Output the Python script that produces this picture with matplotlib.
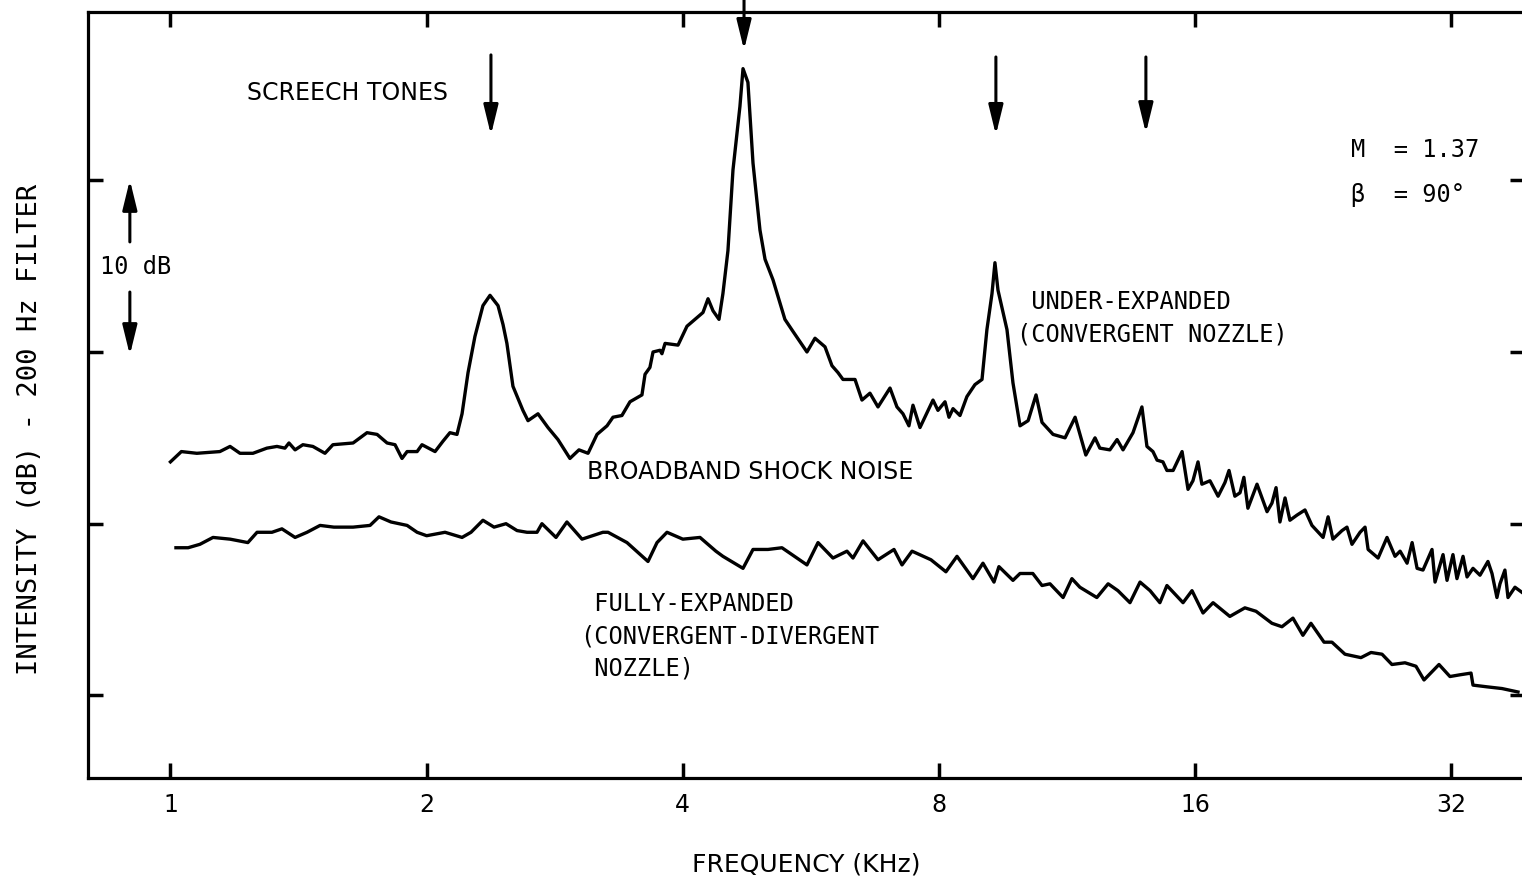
import matplotlib
matplotlib.use("Agg")
import matplotlib.pyplot as plt

# Under-expanded jet (convergent nozzle): frequency (kHz) and level (dB, relative)
upper_khz = [1.00, 1.03, 1.074, 1.143, 1.175, 1.207, 1.250, 1.298, 1.334, 1.363,
             1.378, 1.401, 1.431, 1.470, 1.519, 1.552, 1.639, 1.702, 1.749, 1.797,
             1.836, 1.871, 1.897, 1.949, 1.975, 2.046, 2.090, 2.130, 2.171, 2.201,
             2.237, 2.279, 2.329, 2.374, 2.426, 2.459, 2.485, 2.526, 2.595, 2.631,
             2.667, 2.703, 2.777, 2.853, 2.947, 3.020, 3.095, 3.171, 3.258, 3.311,
             3.392, 3.467, 3.581, 3.611, 3.659, 3.690, 3.760, 3.780, 3.812, 3.948,
             4.045, 4.156, 4.224, 4.282, 4.340, 4.411, 4.458, 4.519, 4.581, 4.668,
             4.707, 4.770, 4.836, 4.928, 4.996, 5.105, 5.272, 5.388, 5.596, 5.719,
             5.876, 5.988, 6.086, 6.169, 6.373, 6.494, 6.636, 6.782, 7.006, 7.139,
             7.256, 7.374, 7.455, 7.598, 7.870, 7.976, 8.130, 8.218, 8.308, 8.466,
             8.626, 8.816, 8.986, 9.106, 9.232, 9.306, 9.383, 9.614, 9.771, 9.959,
             10.18, 10.40, 10.57, 10.89, 11.25, 11.56, 11.90, 12.20, 12.36, 12.70,
             12.95, 13.16, 13.52, 13.85, 14.04, 14.27, 14.43, 14.66, 14.82, 15.07,
             15.44, 15.69, 15.90, 16.12, 16.29, 16.65, 17.02, 17.34, 17.53, 17.81,
             18.06, 18.25, 18.45, 18.91, 19.43, 19.69, 19.91, 20.12, 20.40, 20.67,
             21.07, 21.53, 21.94, 22.61, 22.92, 23.22, 23.80, 24.12, 24.45, 24.99,
             25.33, 25.54, 26.24, 26.88, 27.47, 27.85, 28.38, 28.77, 29.16, 29.63,
             30.36, 30.61, 31.28, 31.62, 32.13, 32.48, 33.02, 33.38, 33.92, 34.57,
             35.32, 35.71, 36.19, 36.49, 36.98, 37.29, 38.00, 38.73]
upper_db = [23.6, 24.2, 24.1, 24.2, 24.5, 24.1, 24.1, 24.4, 24.5, 24.4,
            24.7, 24.3, 24.6, 24.5, 24.1, 24.6, 24.7, 25.3, 25.2, 24.7,
            24.6, 23.8, 24.2, 24.2, 24.6, 24.2, 24.8, 25.3, 25.2, 26.4,
            28.8, 30.9, 32.7, 33.3, 32.7, 31.6, 30.5, 28.0, 26.6, 26.0,
            26.2, 26.4, 25.6, 24.9, 23.8, 24.3, 24.1, 25.2, 25.7, 26.2,
            26.3, 27.1, 27.5, 28.7, 29.1, 30.0, 30.1, 29.9, 30.5, 30.4,
            31.5, 32.0, 32.3, 33.1, 32.4, 31.9, 33.4, 35.9, 40.6, 44.3,
            46.5, 45.7, 41.0, 37.1, 35.4, 34.2, 31.9, 31.2, 30.0, 30.8,
            30.3, 29.2, 28.8, 28.4, 28.4, 27.2, 27.6, 26.8, 27.9, 26.8,
            26.4, 25.7, 26.9, 25.6, 27.2, 26.6, 27.1, 26.2, 26.7, 26.3,
            27.4, 28.1, 28.4, 31.3, 33.4, 35.2, 33.6, 31.3, 28.2, 25.7,
            26.0, 27.5, 25.9, 25.2, 25.0, 26.2, 24.0, 25.0, 24.4, 24.3,
            24.9, 24.3, 25.3, 26.8, 24.5, 24.2, 23.7, 23.6, 23.1, 23.1,
            24.2, 22.0, 22.5, 23.6, 22.3, 22.5, 21.6, 22.4, 23.1, 21.6,
            21.8, 22.7, 20.9, 22.3, 20.7, 21.2, 22.1, 20.1, 21.5, 20.2,
            20.5, 20.8, 19.9, 19.2, 20.4, 19.1, 19.6, 19.8, 18.8, 19.5,
            19.8, 18.5, 18.0, 19.2, 18.1, 18.4, 17.7, 18.9, 17.4, 17.3,
            18.5, 16.6, 18.2, 16.7, 18.2, 16.8, 18.1, 16.9, 17.4, 17.0,
            17.8, 17.1, 15.7, 16.5, 17.3, 15.7, 16.3, 16.0]

# Fully-expanded jet (convergent-divergent nozzle)
lower_khz = [1.015, 1.049, 1.083, 1.122, 1.175, 1.233, 1.264, 1.316, 1.352, 1.401,
             1.447, 1.499, 1.556, 1.639, 1.716, 1.758, 1.816, 1.897, 1.949, 2.000,
             2.102, 2.201, 2.255, 2.329, 2.400, 2.479, 2.554, 2.624, 2.696, 2.732,
             2.838, 2.923, 3.045, 3.222, 3.267, 3.439, 3.640, 3.730, 3.832, 4.000,
             4.190, 4.374, 4.458, 4.707, 4.836, 5.036, 5.230, 5.596, 5.766, 6.004,
             6.236, 6.338, 6.513, 6.782, 7.082, 7.237, 7.436, 7.827, 8.150, 8.398,
             8.768, 9.009, 9.282, 9.407, 9.771, 9.959, 10.31, 10.57, 10.80, 11.19,
             11.46, 11.71, 12.26, 12.64, 12.98, 13.41, 13.78, 14.16, 14.54, 14.82,
             15.48, 15.86, 16.34, 16.79, 17.57, 18.30, 18.86, 19.69, 20.23, 20.84,
             21.41, 21.88, 22.67, 23.16, 23.99, 25.05, 25.74, 26.52, 27.24, 28.22,
             29.07, 29.71, 30.94, 31.87, 32.74, 33.74, 33.92, 35.23, 36.69, 38.31]
lower_db = [18.6, 18.6, 18.8, 19.2, 19.1, 18.9, 19.5, 19.5, 19.7, 19.2,
            19.5, 19.9, 19.8, 19.8, 19.9, 20.4, 20.1, 19.9, 19.5, 19.3,
            19.5, 19.2, 19.5, 20.2, 19.8, 20.0, 19.6, 19.5, 19.5, 20.0,
            19.2, 20.1, 19.1, 19.5, 19.5, 18.9, 17.8, 18.9, 19.5, 19.1,
            19.2, 18.4, 18.1, 17.4, 18.5, 18.5, 18.6, 17.6, 18.9, 18.0,
            18.4, 18.0, 19.0, 17.9, 18.5, 17.6, 18.4, 17.9, 17.2, 18.1,
            16.8, 17.7, 16.6, 17.5, 16.7, 17.1, 17.1, 16.4, 16.5, 15.7,
            16.8, 16.3, 15.7, 16.5, 16.1, 15.4, 16.6, 16.1, 15.4, 16.4,
            15.4, 16.1, 14.8, 15.4, 14.6, 15.1, 14.9, 14.2, 14.0, 14.5,
            13.5, 14.2, 13.1, 13.1, 12.4, 12.2, 12.5, 12.4, 11.8, 11.9,
            11.7, 10.9, 11.8, 11.1, 11.2, 11.3, 10.6, 10.5, 10.4, 10.2]

# screech tone frequencies marked by arrows (kHz)
screech_khz = [2.38, 4.72, 9.33, 14.0]

freq_ticks = [1, 2, 4, 8, 16, 32]
freq_labels = ["1", "2", "4", "8", "16", "32"]
level_ticks = [10, 20, 30, 40]

sans = ["DejaVu Sans"]
mono = ["DejaVu Sans Mono", "DejaVu Sans"]

fig = plt.figure(figsize=(15.22, 8.81), dpi=100)
ax = fig.add_axes([0.0578, 0.1169, 0.9442, 0.8695])

ax.plot(upper_khz, upper_db, color="black", lw=2.4, solid_joinstyle="round")
ax.plot(lower_khz, lower_db, color="black", lw=2.4, solid_joinstyle="round")

ax.set_xscale("log", base=2)
ax.set_xlim(0.80, 39.05)
ax.set_ylim(5.19, 49.8)
ax.set_xticks(freq_ticks, labels=freq_labels, fontfamily=sans, fontsize=17)
ax.minorticks_off()
ax.set_yticks(level_ticks)
ax.set_yticklabels([])
ax.tick_params(direction="in", length=11, width=2.5, top=True, right=True, pad=11)
for sp in ax.spines.values():
    sp.set_linewidth(2.3)

# screech tone arrows
arrow_style = dict(arrowstyle="-|>,head_length=0.9,head_width=0.22", color="black",
                   lw=2.2, mutation_scale=20, shrinkA=0, shrinkB=0)
tails = [47.30, 50.5, 47.18, 47.18]
heads = [42.64, 47.59, 42.64, 42.75]
for f, t, h in zip(screech_khz, tails, heads):
    ax.annotate("", xy=(f, h), xytext=(f, t), arrowprops=arrow_style,
                annotation_clip=False)

# 10 dB scale marker
ax.annotate("", xy=(0.896, 40.02), xytext=(0.896, 36.41), arrowprops=arrow_style)
ax.annotate("", xy=(0.896, 29.82), xytext=(0.896, 33.49), arrowprops=arrow_style)
ax.text(0.826, 34.95, "10 dB", fontfamily=mono, fontsize=17, va="center", ha="left")

ax.text(1.23, 45.1, "SCREECH TONES", fontfamily=sans, fontsize=17,
        va="center", ha="left")
ax.text(3.086, 23.0, "BROADBAND SHOCK NOISE", fontfamily=sans, fontsize=17,
        va="center", ha="left")
ax.text(3.027, 16.05, " FULLY-EXPANDED\n(CONVERGENT-DIVERGENT\n NOZZLE)",
        fontfamily=mono, fontsize=17, va="top", ha="left", linespacing=1.45)
ax.text(9.88, 33.6, " UNDER-EXPANDED\n(CONVERGENT NOZZLE)",
        fontfamily=mono, fontsize=17, va="top", ha="left", linespacing=1.45)
ax.text(24.4, 41.76, "M  = 1.37", fontfamily=mono, fontsize=17, va="center", ha="left")
ax.text(24.4, 39.14, "\u03b2  = 90\u00b0", fontfamily=mono, fontsize=17,
        va="center", ha="left")

fig.text(0.5296, 0.019, "FREQUENCY (KHz)", fontfamily=sans, fontsize=18,
         ha="center", va="center")
fig.text(0.0197, 0.513, "INTENSITY (dB) - 200 Hz FILTER", fontfamily=mono,
         fontsize=19.5, rotation=90, ha="center", va="center")

fig.savefig("out.png", dpi=100)
